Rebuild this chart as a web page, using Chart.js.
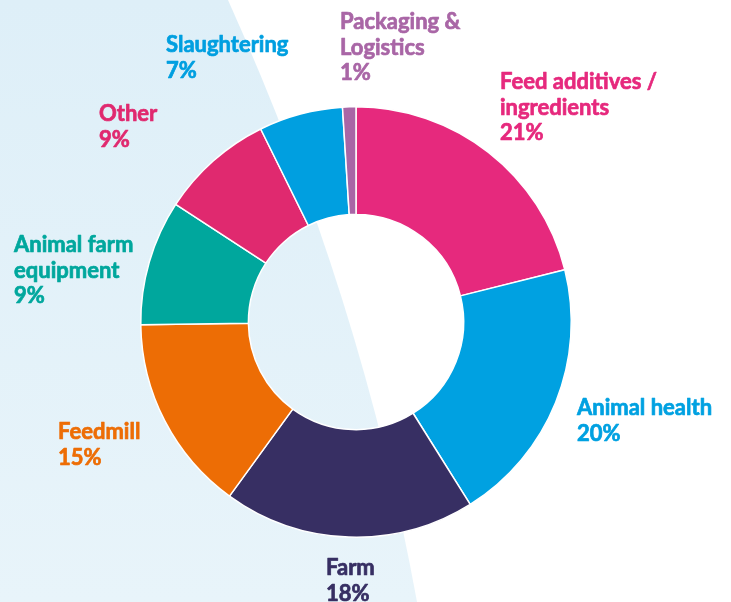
<!DOCTYPE html>
<html>
<head>
<meta charset="utf-8">
<script src="https://cdn.jsdelivr.net/npm/chart.js@4"></script>
<style>
  html, body { margin: 0; padding: 0; background: #fff; }
  #wrap { width: 731px; height: 602px; position: relative; }
</style>
</head>
<body>
<div id="wrap"><canvas id="chartSegments" width="731" height="602"></canvas></div>
<script>
'use strict';

// Dane wykresu
const categories = ['Feed additives / ingredients', 'Animal health', 'Farm', 'Feedmill',
    'Animal farm equipment', 'Other', 'Slaughtering', 'Packaging & Logistics'];
// wielkości wycinków (kąty)
const shares = [21.1, 20.0, 18.9, 14.8, 9.4, 8.5, 6.3, 1.0];
// procenty wypisane na etykietach
const pctLabels = ['21%', '20%', '18%', '15%', '9%', '9%', '7%', '1%'];
const labelLines = [
    ['Feed additives /', 'ingredients'],
    ['Animal health'],
    ['Farm'],
    ['Feedmill'],
    ['Animal farm', 'equipment'],
    ['Other'],
    ['Slaughtering'],
    ['Packaging &', 'Logistics']
];
const sliceColors = ['#E6297D', '#00A1E1', '#372F63', '#ED6D05', '#00A79D', '#E0296F', '#009FE0', '#A966A6'];

// Pozycje etykiet (lewy brzeg, środek pierwszej linii)
const labelPos = [
    [500, 82], [577, 408], [326, 568], [58, 432], [14, 245], [99, 114], [166, 45], [340, 22]
];

const FONT = 'bold 22px "Lato", sans-serif';
const LINE_H = 25.5;

const bgPlugin = {
    id: 'bgShape',
    beforeDraw(chart) {
        const c = chart.ctx;
        c.save();
        c.fillStyle = '#ffffff';
        c.fillRect(0, 0, chart.width, chart.height);
        const g = c.createLinearGradient(0, 0, 0, chart.height);
        g.addColorStop(0, '#DEEFF8');
        g.addColorStop(1, '#E8F4FA');
        c.fillStyle = g;
        c.beginPath();
        c.moveTo(0, 0);
        c.lineTo(228, 0);
        c.quadraticCurveTo(362, 298, 417, 602);
        c.lineTo(0, 602);
        c.closePath();
        c.fill();
        c.restore();
    }
};

const labelPlugin = {
    id: 'sliceLabels',
    afterDraw(chart) {
        const c = chart.ctx;
        c.save();
        c.font = FONT;
        c.textBaseline = 'middle';
        c.textAlign = 'left';
        c.lineWidth = 0.7;
        c.lineJoin = 'round';
        labelLines.forEach((lines, i) => {
            const [x, y] = labelPos[i];
            c.fillStyle = sliceColors[i];
            c.strokeStyle = sliceColors[i];
            const all = lines.concat([pctLabels[i]]);
            all.forEach((t, k) => {
                c.fillText(t, x, y + k * LINE_H);
                c.strokeText(t, x, y + k * LINE_H);
            });
        });
        c.restore();
    }
};

new Chart(document.getElementById('chartSegments'), {
    type: 'doughnut',
    data: {
        labels: categories,
        datasets: [{
            data: shares,
            backgroundColor: sliceColors,
            borderColor: '#ffffff',
            borderWidth: 1.5,
            hoverOffset: 0
        }]
    },
    options: {
        responsive: false,
        animation: false,
        cutout: '50%',
        layout: { padding: { top: 106, bottom: 64, left: 140, right: 159 } },
        plugins: { legend: { display: false }, tooltip: { enabled: false } }
    },
    plugins: [bgPlugin, labelPlugin]
});
</script>
</body>
</html>
